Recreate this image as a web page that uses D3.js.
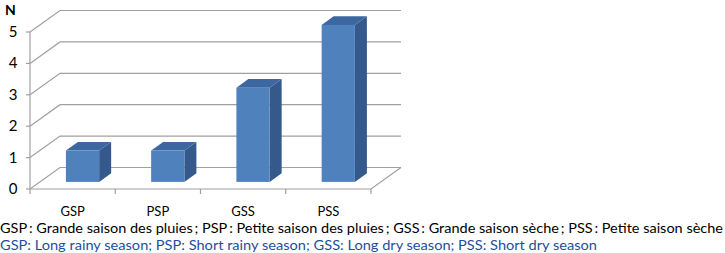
<!DOCTYPE html>
<html><head><meta charset="utf-8">
<script src="https://cdn.jsdelivr.net/npm/d3@7"></script>
<style>body{margin:0;background:#fff}svg{display:block}</style>
</head><body>
<script>
const categories = ["GSP", "PSP", "GSS", "PSS"];
const values = [1, 1, 3, 5];
const yTicks = [0, 1, 2, 3, 4, 5];
const yTitle = "N";
const captionFr = "GSP\u2009: Grande saison des pluies\u2009; PSP\u2009: Petite saison des pluies\u2009; GSS\u2009: Grande saison sèche\u2009; PSS\u2009: Petite saison sèche";
const captionEn = "GSP: Long rainy season; PSP: Short rainy season; GSS: Long dry season; PSS: Short dry season";

const W = 725, H = 253;
const svg = d3.select("body").append("svg").attr("width", W).attr("height", H);
const font = "Lato, 'Open Sans', sans-serif";

const x = d3.scaleBand().domain(categories).range([30, 371]).paddingInner(0).paddingOuter(0);
const y = d3.scaleLinear().domain([0, 5]).range([189, 32]);
const DX = 30, DY = -21.5;
const off = d => [DX * d, DY * d];
const grid = "#a0a0a0";

const g = svg.append("g");
yTicks.forEach(v => {
  const yy = y(v);
  g.append("path").attr("fill", "none").attr("stroke", grid).attr("stroke-width", 1.2)
    .attr("d", `M30,${yy}L${30 + DX},${yy + DY}L${371 + DX},${yy + DY}`);
});
g.append("line").attr("x1", 30).attr("x2", 30).attr("y1", y(5)).attr("y2", y(0))
  .attr("stroke", grid).attr("stroke-width", 1.2);
yTicks.forEach(v => {
  g.append("line").attr("x1", 26).attr("x2", 30).attr("y1", y(v)).attr("y2", y(v))
    .attr("stroke", grid).attr("stroke-width", 1.2);
});
g.append("path").attr("fill", "none").attr("stroke", grid).attr("stroke-width", 1.2)
  .attr("d", `M30,${y(0)}L371,${y(0)}L${371 + DX},${y(0) + DY}`);
const xt = categories.map(c => x(c)).concat([x.range()[1]]);
xt.forEach(px => {
  g.append("line").attr("x1", px).attr("x2", px).attr("y1", y(0)).attr("y2", y(0) + 5)
    .attr("stroke", grid).attr("stroke-width", 1.2);
});

const d0 = 0.33, d1 = 0.73;
const bw = x.bandwidth() * 0.39;
const bars = svg.append("g");
categories.forEach((c, i) => {
  const cx = x(c) + x.bandwidth() / 2;
  const [ox, oy] = off(d0);
  const [ox2, oy2] = off(d1);
  const xl = cx - bw / 2 + ox, xr = cx + bw / 2 + ox;
  const yb = y(0) + oy, yt = y(values[i]) + oy;
  const ddx = ox2 - ox, ddy = oy2 - oy;
  bars.append("path").attr("fill", "#34598a")
    .attr("d", `M${xr},${yt}L${xr + ddx},${yt + ddy}L${xr + ddx},${yb + ddy}L${xr},${yb}Z`);
  bars.append("path").attr("fill", "#3d67a0")
    .attr("d", `M${xl},${yt}L${xl + ddx},${yt + ddy}L${xr + ddx},${yt + ddy}L${xr},${yt}Z`);
  bars.append("rect").attr("x", xl).attr("y", yt).attr("width", xr - xl).attr("height", yb - yt)
    .attr("fill", "#4f81bd");
});

yTicks.forEach(v => {
  svg.append("text").attr("x", 13).attr("y", y(v) + 5).attr("text-anchor", "middle")
    .attr("font-family", font).attr("font-size", 15).attr("fill", "#000").text(v);
});
svg.append("text").attr("x", 5).attr("y", 15).attr("font-family", font).attr("font-weight", "bold")
  .attr("font-size", 14).attr("fill", "#000").text(yTitle);

categories.forEach(c => {
  svg.append("text").attr("x", x(c) + x.bandwidth() / 2).attr("y", 216).attr("text-anchor", "middle")
    .attr("font-family", font).attr("font-size", 13).attr("fill", "#000").text(c);
});

svg.append("text").attr("x", 0).attr("y", 233).attr("font-family", font).attr("font-size", 14)
  .attr("fill", "#000").attr("textLength", 723).attr("lengthAdjust", "spacingAndGlyphs").text(captionFr);
svg.append("text").attr("x", 0).attr("y", 250).attr("font-family", font).attr("font-size", 14)
  .attr("fill", "#1f4e9a").attr("textLength", 597).attr("lengthAdjust", "spacingAndGlyphs").text(captionEn);
</script>
</body></html>
